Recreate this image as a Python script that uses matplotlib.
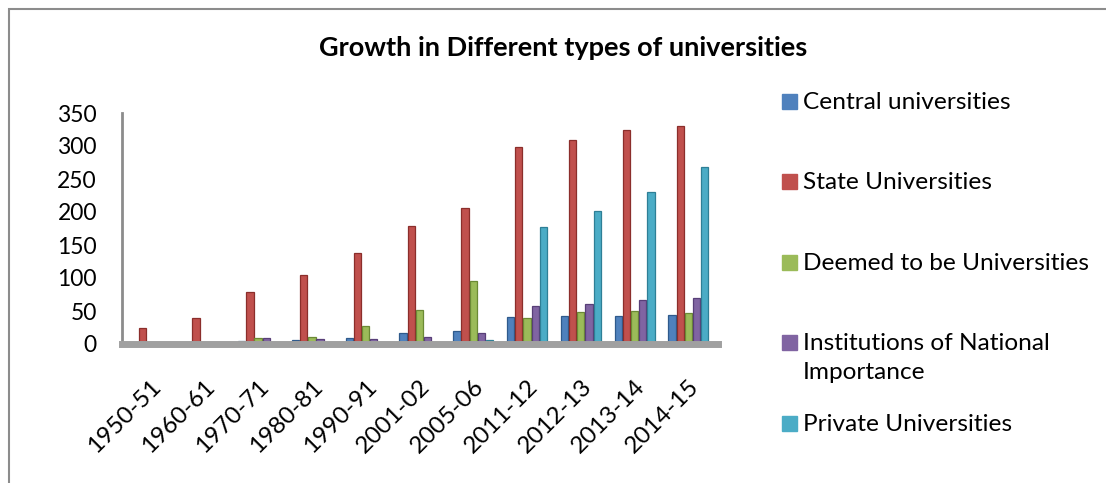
import numpy as np
import matplotlib.pyplot as plt
from matplotlib.patches import Rectangle

years = ['1950-51', '1960-61', '1970-71', '1980-81', '1990-91', '2001-02',
         '2005-06', '2011-12', '2012-13', '2013-14', '2014-15']

central = [2, 3, 5, 6, 9, 17, 19, 41, 42, 43, 44]
state = [24, 40, 79, 105, 138, 179, 206, 299, 309, 324, 330]
deemed = [0, 2, 9, 11, 28, 51, 95, 40, 48, 50, 47]
national = [0, 1, 9, 8, 8, 11, 17, 58, 60, 67, 69]
private = [0, 0, 0, 0, 0, 0, 6, 178, 201, 230, 268]

series_names = ['Central universities', 'State Universities', 'Deemed to be Universities',
                'Institutions of National\nImportance', 'Private Universities']
series_values = [central, state, deemed, national, private]
colors = ['#4F81BD', '#C0504D', '#9BBB59', '#8064A2', '#4BACC6']
edge_colors = ['#2F5A8C', '#8B2E2B', '#6B8A35', '#583F78', '#2E7F96']

plt.rcParams['font.family'] = ['Lato', 'DejaVu Sans']

W, H = 1106, 483
fig = plt.figure(figsize=(W / 100, H / 100), dpi=100)
ax = fig.add_axes([122 / W, (H - 344) / H, 596 / W, 231 / H])

x = np.arange(len(years))
pitch = 0.152
for k, (vals, c, ec) in enumerate(zip(series_values, colors, edge_colors)):
    ax.bar(x + (k - 2) * pitch, vals, width=0.135, color=c, edgecolor=ec, linewidth=0.9)

ax.set_xlim(-0.53, 10.55)
ax.set_ylim(0, 350)
ax.set_yticks(range(0, 351, 50))
ax.tick_params(axis='y', length=0, pad=18, labelsize=16.5)
ax.set_xticks(x)
ax.set_xticklabels(years, rotation=45, ha='right', va='top', rotation_mode='anchor', fontsize=17.5)
ax.tick_params(axis='x', length=0, pad=23)
for side in ['top', 'right']:
    ax.spines[side].set_visible(False)
ax.spines['left'].set_color('#8C8C8C')
ax.spines['left'].set_linewidth(2)
ax.spines['bottom'].set_color('#A0A0A0')
ax.spines['bottom'].set_linewidth(5)

fig.text(563 / W, 1 - 48 / H, 'Growth in Different types of universities',
         ha='center', va='center', fontsize=19.5, fontweight='bold')

# legend drawn by hand to follow the Excel layout
for i, (name, c) in enumerate(zip(series_names, colors)):
    yc = 101.5 + 80.4 * i
    fig.patches.append(Rectangle((782 / W, 1 - (yc + 7.5) / H), 15 / W, 15 / H,
                                 transform=fig.transFigure, color=c))
    fig.text(803 / W, 1 - (yc - 9.5) / H, name, ha='left', va='top',
             fontsize=17.6, linespacing=1.48)

# chart border
fig.patches.append(Rectangle((9 / W, -0.1), 1.2, 1.1 - 9 / H, transform=fig.transFigure,
                             fill=False, edgecolor='#8C8C8C', linewidth=1.5))

fig.savefig('out.png', dpi=100)
